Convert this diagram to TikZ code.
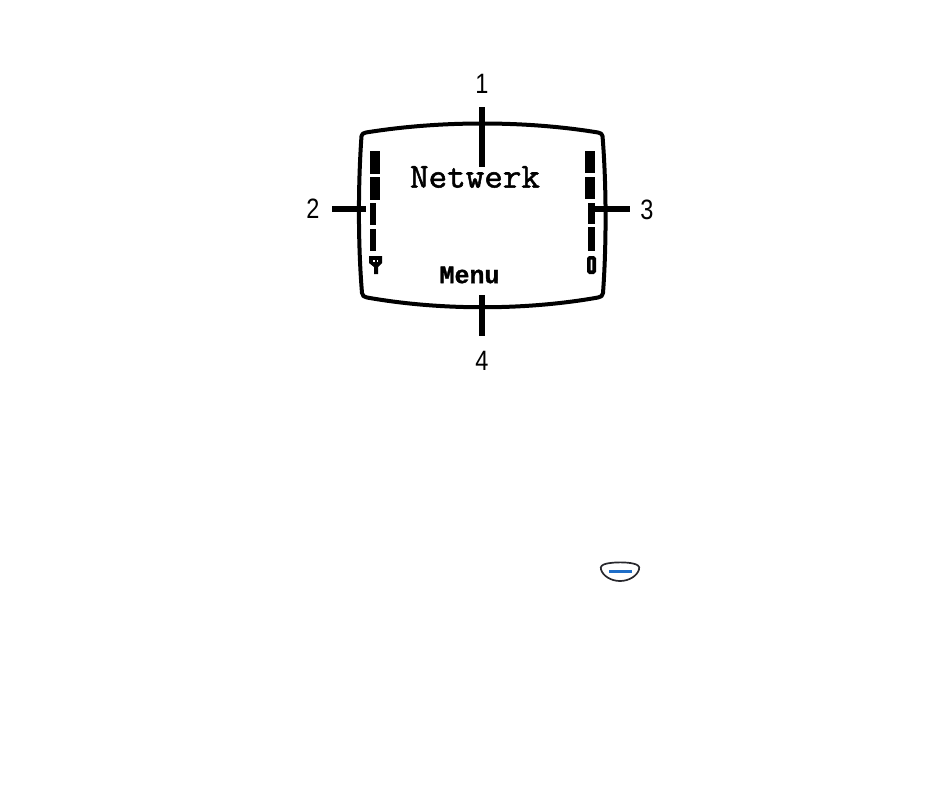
\documentclass[tikz,border=0pt]{standalone}
\usepackage{fontspec}
\newfontfamily\digitfont[FakeStretch=0.84]{Liberation Sans}
\newfontfamily\lcdfont[FakeBold=1.5,FakeStretch=1.03]{Latin Modern Mono}
\newfontfamily\softfont[FakeBold=1.2,BoldFont={Liberation Mono Bold}]{Liberation Mono}
\definecolor{keyblue}{RGB}{30,110,200}
\definecolor{keyline}{RGB}{40,40,45}
\tikzset{
  screenline/.style={line width=4pt,line join=round},
  tickline/.style={line width=5.5pt},
  digitlabel/.style={font=\digitfont\fontsize{28}{28}\selectfont,inner sep=0pt},
  lcdbar/.style={fill=black,draw=none}
}

\begin{document}
\begin{tikzpicture}[x=1pt,y=-1pt]

\useasboundingbox (0,0) rectangle (950,808);

\coordinate (T1) at (482,107);
\coordinate (T2) at (482,167);
\coordinate (L1) at (332,209);
\coordinate (L2) at (366,209);
\coordinate (R1) at (594,209);
\coordinate (R2) at (630,209);
\coordinate (B1) at (482,295);
\coordinate (B2) at (482,336);

% screen outline
\draw[screenline] (366,132.5)
.. controls (440,120.5) and (525,120.5) .. (598,132.5)
.. controls (601,133) and (602,134) .. (602.5,136)
.. controls (606.5,185) and (606.5,245) .. (603,293)
.. controls (602.5,296) and (601,297) .. (598,297.5)
.. controls (525,310.5) and (440,310.5) .. (367,297.5)
.. controls (364,297) and (362.5,296) .. (362,293)
.. controls (358,245) and (358,185) .. (361.5,136)
.. controls (362,134) and (363,133) .. (366,132.5) -- cycle;

% ticks
\draw[tickline] (T1) -- (T2);
\draw[tickline] (L1) -- (L2);
\draw[tickline] (R1) -- (R2);
\draw[tickline] (B1) -- (B2);

\node[digitlabel] (num1) at (482,84) {1};
\node[digitlabel] (num2) at (313,209) {2};
\node[digitlabel] (num3) at (647,210) {3};
\node[digitlabel] (num4) at (482,361) {4};

% signal bars
\fill[lcdbar] (370,151) rectangle (380,174);
\fill[lcdbar] (370,177) rectangle (380,200);
\fill[lcdbar] (370,203) rectangle (376,225);
\fill[lcdbar] (370,229) rectangle (376,251);

% battery bars
\fill[lcdbar] (585,151) rectangle (595,173);
\fill[lcdbar] (585,177) rectangle (595,199);
\fill[lcdbar] (588,203) rectangle (595,224);
\fill[lcdbar] (588,227) rectangle (595,251);

% antenna
\fill[lcdbar] (369,256) -- (382,256) -- (382,263) -- (378,267) -- (378,274) -- (374,274) -- (374,267) -- (369,263) -- cycle;
\fill[white] (373,260) rectangle (374.5,262);
\fill[white] (376.5,260) rectangle (378,262);

% battery
\draw[line width=3.6pt,rounded corners=1pt] (588.8,257.8) rectangle (594.2,272.2);

\node[font=\lcdfont\fontsize{35}{35}\selectfont,inner sep=0pt] (netwerk) at (475,177) {Netwerk};
\node[font=\softfont\bfseries\fontsize{25}{25}\selectfont,inner sep=0pt] (menu) at (469.5,275) {Menu};

% key
\draw[keyline,line width=1.7pt,fill=white] (607,563.5)
.. controls (615,562) and (626,562) .. (633,563.5)
.. controls (638,564.5) and (640,566.5) .. (639,569.5)
.. controls (637,576) and (629,581) .. (620,581)
.. controls (611,581) and (603,576) .. (601,569.5)
.. controls (600,566.5) and (602,564.5) .. (607,563.5) -- cycle;
\draw[keyblue,line width=3pt] (609,571) -- (632,571);

\end{tikzpicture}
\end{document}
